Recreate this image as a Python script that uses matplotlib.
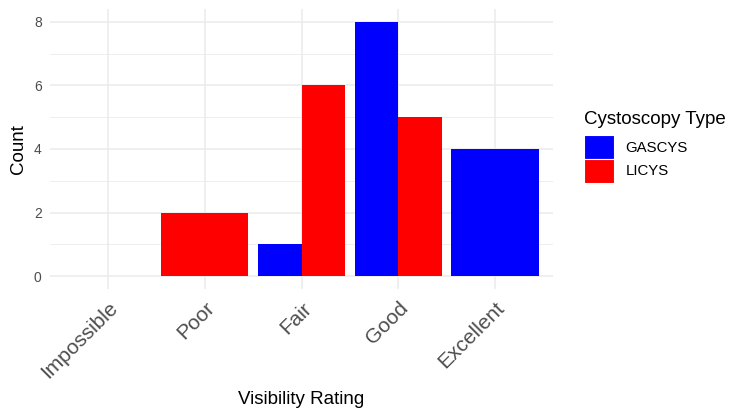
import numpy as np
import matplotlib.pyplot as plt
from matplotlib.patches import Patch

plt.rcParams['font.family'] = ['Liberation Sans', 'DejaVu Sans']

categories = ['Impossible', 'Poor', 'Fair', 'Good', 'Excellent']
groups = ['GASCYS', 'LICYS']
gascys = [0, 0, 1, 8, 4]
licys = [0, 2, 6, 5, 0]
colors = {'GASCYS': '#0000FF', 'LICYS': '#FF0000'}

fig = plt.figure(figsize=(7.5, 4.15), dpi=100)
ax = fig.add_axes([0.0667, 0.304, 0.6707, 0.674])

# dodge like ggplot: groups present in a category share the 0.9 width
values = {'GASCYS': gascys, 'LICYS': licys}
for i, cat in enumerate(categories):
    present = [g for g in groups if values[g][i] > 0]
    if not present:
        continue
    w = 0.9 / len(present)
    for j, g in enumerate(present):
        x = i - 0.45 + w * (j + 0.5)
        ax.bar(x, values[g][i], width=w, color=colors[g], linewidth=0, zorder=3)

ax.set_xlim(-0.6, len(categories) - 0.4)
ax.set_ylim(-0.4, 8.4)
ax.set_yticks([0, 2, 4, 6, 8])
ax.set_yticks([1, 3, 5, 7], minor=True)
ax.set_xticks(range(len(categories)))
ax.set_xticklabels(categories, rotation=45, ha='right', va='top',
                   rotation_mode='anchor', fontsize=15, color='#4D4D4D')
ax.tick_params(axis='y', labelsize=10, labelcolor='#4D4D4D', length=0, pad=6)
ax.tick_params(axis='x', length=0, pad=7)
ax.tick_params(which='minor', length=0)
ax.grid(which='major', color='#EBEBEB', linewidth=1.1, zorder=0)
ax.grid(which='minor', axis='y', color='#EBEBEB', linewidth=0.6, zorder=0)
for s in ax.spines.values():
    s.set_visible(False)

ax.set_xlabel('Visibility Rating', fontsize=13.5, labelpad=6)
ax.set_ylabel('Count', fontsize=13.5, labelpad=5)

handles = [Patch(facecolor=colors[g], edgecolor='white', linewidth=0.8) for g in groups]
leg = fig.legend(handles, groups, title='Cystoscopy Type', loc='upper left',
                 bbox_to_anchor=(0.758, 0.768), frameon=False, fontsize=10.8,
                 title_fontsize=13.5, handlelength=2.05, handleheight=2.05,
                 labelspacing=0.0, handletextpad=0.75, alignment='left',
                 borderpad=1.0, borderaxespad=0)
leg._legend_box.sep = 5  # space between legend title and keys

fig.savefig('out.png', dpi=100, facecolor='white')
